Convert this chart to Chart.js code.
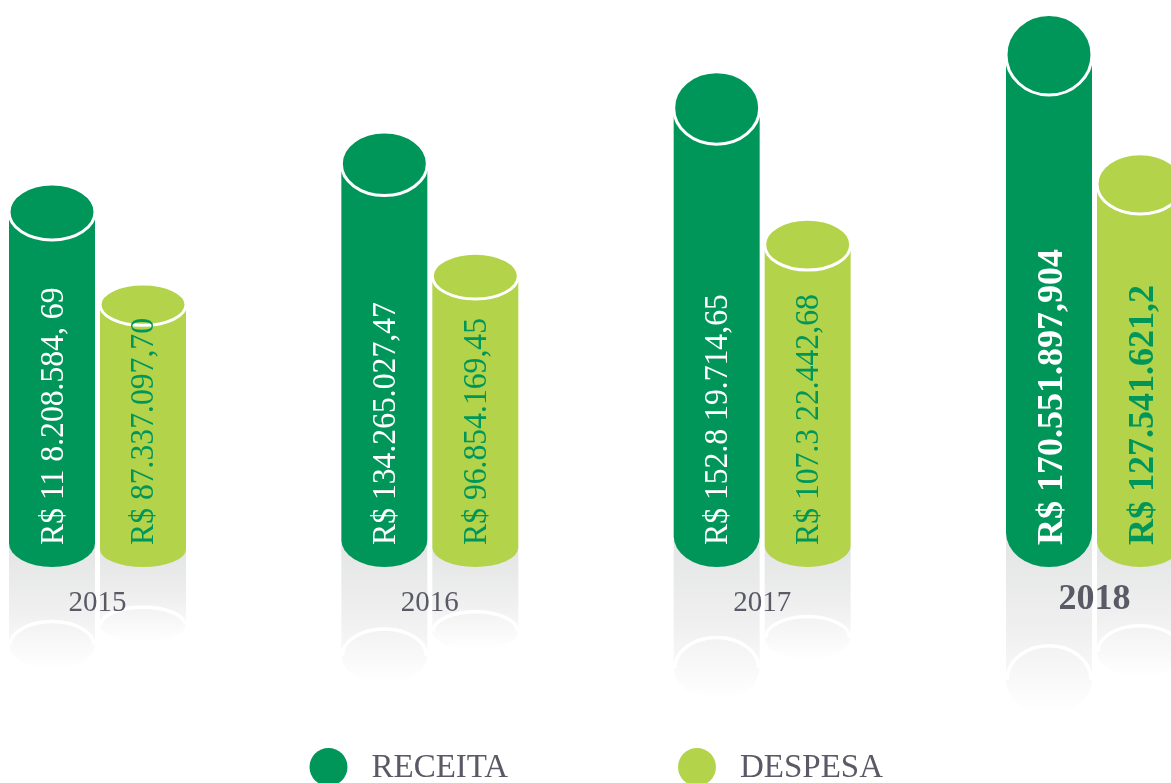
<!DOCTYPE html>
<html>
<head>
<meta charset="utf-8">
<title>Receita x Despesa</title>
<script src="https://cdn.jsdelivr.net/npm/chart.js"></script>
<style>
  html, body { margin: 0; padding: 0; background: #fff; overflow: hidden; }
  #chartBox { width: 1171px; height: 783px; }
</style>
</head>
<body>
<div id="chartBox"><canvas id="myChart" width="1171" height="783"></canvas></div>
<script>
// dados do grafico
const anos = ['2015', '2016', '2017', '2018']
const receita = [118208584.69, 134265027.47, 152819714.65, 170551897.904]
const despesa = [87337097.70, 96854169.45, 107322442.68, 127541621.2]
const receitaTextos = ['R$ 11 8.208.584, 69', 'R$ 134.265.027,47', 'R$ 152.8 19.714,65', 'R$ 170.551.897,904']
const despesaTextos = ['R$ 87.337.097,70', 'R$ 96.854.169,45', 'R$ 107.3 22.442,68', 'R$ 127.541.621,2']
const seriesNomes = ['RECEITA', 'DESPESA']

const verdeEscuro = '#00965a'
const verdeClaro = '#b3d34b'
const cinzaTexto = '#5a5a66'
const fonte = "'Liberation Serif', 'DejaVu Serif', serif"

function medidas(bar) {
	const h = bar.base - bar.y
	const capRy = h * 0.073
	return { rx: bar.width / 2, capRy: capRy, botRy: capRy * 0.85 }
}

// reflexo cinza embaixo de cada barra
function drawReflexo(ctx, bar) {
	const m = medidas(bar)
	const top = bar.base - m.botRy
	const cy = bar.base + m.capRy * 2.8
	const ry = m.capRy * 0.85
	const grad = ctx.createLinearGradient(0, top, 0, cy + ry)
	grad.addColorStop(0, '#e3e4e4')
	grad.addColorStop(0.55, '#f0f0f0')
	grad.addColorStop(1, '#ffffff')
	ctx.save()
	ctx.beginPath()
	ctx.moveTo(bar.x - m.rx, top)
	ctx.lineTo(bar.x + m.rx, top)
	ctx.lineTo(bar.x + m.rx, cy)
	ctx.ellipse(bar.x, cy, m.rx, ry, 0, 0, Math.PI)
	ctx.closePath()
	ctx.fillStyle = grad
	ctx.fill()
	ctx.beginPath()
	ctx.ellipse(bar.x, cy, m.rx - 1, ry, 0, Math.PI, 2 * Math.PI)
	ctx.strokeStyle = '#fff'
	ctx.lineWidth = 3.5
	ctx.stroke()
	ctx.restore()
}

// cilindro
function drawCilindro(ctx, bar, cor) {
	const m = medidas(bar)
	ctx.save()
	ctx.fillStyle = cor
	ctx.beginPath()
	ctx.moveTo(bar.x - m.rx, bar.y + m.capRy)
	ctx.lineTo(bar.x - m.rx, bar.base - m.botRy)
	ctx.ellipse(bar.x, bar.base - m.botRy, m.rx, m.botRy, 0, Math.PI, 0, true)
	ctx.lineTo(bar.x + m.rx, bar.y + m.capRy)
	ctx.closePath()
	ctx.fill()
	ctx.beginPath()
	ctx.ellipse(bar.x, bar.y + m.capRy, m.rx, m.capRy, 0, 0, 2 * Math.PI)
	ctx.fill()
	ctx.strokeStyle = '#fff'
	ctx.lineWidth = 3
	ctx.stroke()
	ctx.restore()
}

function drawValor(ctx, bar, texto, cor, negrito) {
	ctx.save()
	ctx.translate(bar.x + (negrito ? 13 : 10.5), bar.base - 22)
	ctx.rotate(-Math.PI / 2)
	ctx.scale(negrito ? 1 : 0.96, 1)
	ctx.font = (negrito ? 'bold 36px ' : '33px ') + fonte
	ctx.fillStyle = cor
	ctx.textAlign = 'left'
	ctx.textBaseline = 'alphabetic'
	ctx.fillText(texto, 0, 0)
	ctx.restore()
}

const cilindros = {
	id: 'cilindros',
	beforeDatasetsDraw(chart) {
		const ctx = chart.ctx
		const ultimo = chart.data.labels.length - 1
		const metas = chart.data.datasets.map((ds, d) => chart.getDatasetMeta(d))

		metas.forEach(meta => meta.data.forEach(bar => drawReflexo(ctx, bar)))

		// anos
		const xScale = chart.scales.x
		const base = chart.chartArea.bottom
		chart.data.labels.forEach((ano, i) => {
			ctx.save()
			ctx.fillStyle = cinzaTexto
			ctx.textAlign = 'center'
			ctx.textBaseline = 'middle'
			ctx.font = (i === ultimo ? 'bold 36px ' : '29px ') + fonte
			ctx.fillText(ano, xScale.getPixelForValue(i), base + (i === ultimo ? 33 : 36))
			ctx.restore()
		})

		metas.forEach((meta, d) => meta.data.forEach(bar => {
			drawCilindro(ctx, bar, chart.data.datasets[d].backgroundColor)
		}))

		metas.forEach((meta, d) => meta.data.forEach((bar, i) => {
			const ds = chart.data.datasets[d]
			drawValor(ctx, bar, ds.textos[i], ds.corTexto, i === ultimo)
		}))
		return false
	},
	afterDraw(chart) {
		// legenda
		const ctx = chart.ctx
		const inicio = 328.5
		const passo = 368.5
		chart.data.datasets.forEach((ds, i) => {
			const cx = inicio + i * passo
			ctx.save()
			ctx.beginPath()
			ctx.arc(cx, 767, 19, 0, 2 * Math.PI)
			ctx.fillStyle = ds.backgroundColor
			ctx.fill()
			ctx.font = '33px ' + fonte
			ctx.fillStyle = cinzaTexto
			ctx.textAlign = 'left'
			ctx.textBaseline = 'alphabetic'
			ctx.fillText(ds.label, cx + 43, 777)
			ctx.restore()
		})
	}
}

const ctx = document.getElementById('myChart').getContext('2d')

const myChart = new Chart(ctx, {
	type: 'bar',
	data: {
		labels: anos,
		datasets: [{
			label: seriesNomes[0],
			data: receita,
			backgroundColor: verdeEscuro,
			textos: receitaTextos,
			corTexto: '#ffffff'
		}, {
			label: seriesNomes[1],
			data: despesa,
			backgroundColor: verdeClaro,
			textos: despesaTextos,
			corTexto: verdeEscuro
		}]
	},
	options: {
		responsive: false,
		animation: false,
		devicePixelRatio: 1,
		datasets: {
			bar: {
				categoryPercentage: 0.5476,
				barPercentage: 0.945
			}
		},
		layout: {
			padding: { left: 97.5, right: 76.5, top: 0, bottom: 216 }
		},
		plugins: {
			legend: { display: false },
			tooltip: { enabled: false }
		},
		scales: {
			x: { display: false, offset: false },
			y: { display: false, min: 0, max: 175000000 }
		}
	},
	plugins: [cilindros]
})
</script>
</body>
</html>
